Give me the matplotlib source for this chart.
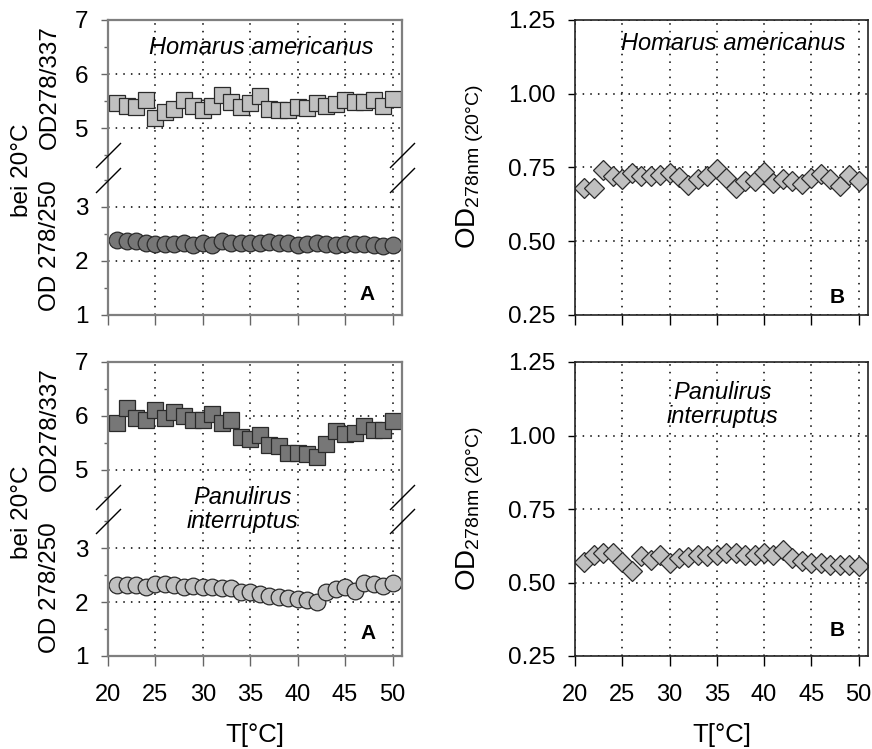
import numpy as np
import matplotlib
matplotlib.use('Agg')
import matplotlib.pyplot as plt
from matplotlib.ticker import FixedLocator, NullLocator

plt.rcParams['font.family'] = ['Liberation Sans', 'DejaVu Sans']
plt.rcParams['mathtext.default'] = 'regular'

temps = list(range(21, 51))

# Homarus americanus
homarus_337 = [5.46, 5.41, 5.39, 5.52, 5.19, 5.30, 5.36, 5.52, 5.40, 5.33,
               5.40, 5.61, 5.49, 5.39, 5.46, 5.59, 5.36, 5.33, 5.33, 5.39,
               5.37, 5.47, 5.40, 5.44, 5.52, 5.48, 5.49, 5.52, 5.40, 5.54]
homarus_250 = [2.38, 2.37, 2.36, 2.34, 2.31, 2.31, 2.31, 2.34, 2.30, 2.33,
               2.29, 2.36, 2.34, 2.33, 2.33, 2.34, 2.35, 2.34, 2.33, 2.30,
               2.32, 2.33, 2.31, 2.30, 2.31, 2.31, 2.31, 2.30, 2.28, 2.29]
homarus_od278 = [0.679, 0.679, 0.741, 0.722, 0.710, 0.730, 0.722, 0.722, 0.725, 0.730,
                 0.718, 0.690, 0.710, 0.722, 0.744, 0.716, 0.682, 0.705, 0.705, 0.735,
                 0.699, 0.710, 0.705, 0.693, 0.714, 0.727, 0.710, 0.688, 0.725, 0.705]

# Panulirus interruptus
panulirus_337 = [5.86, 6.14, 5.96, 5.93, 6.10, 5.96, 6.07, 6.00, 5.93, 5.93,
                 6.04, 5.86, 5.93, 5.60, 5.57, 5.64, 5.46, 5.44, 5.31, 5.32,
                 5.30, 5.24, 5.48, 5.71, 5.66, 5.68, 5.81, 5.74, 5.74, 5.91]
panulirus_250 = [2.31, 2.31, 2.31, 2.29, 2.33, 2.33, 2.31, 2.29, 2.30, 2.29,
                 2.29, 2.26, 2.26, 2.19, 2.18, 2.15, 2.11, 2.09, 2.08, 2.06,
                 2.04, 2.01, 2.18, 2.25, 2.28, 2.21, 2.36, 2.33, 2.30, 2.36]
panulirus_od278 = [0.569, 0.595, 0.599, 0.599, 0.569, 0.539, 0.590, 0.576, 0.595, 0.567,
                   0.584, 0.587, 0.592, 0.590, 0.595, 0.599, 0.599, 0.592, 0.595, 0.599,
                   0.595, 0.610, 0.584, 0.573, 0.567, 0.567, 0.561, 0.561, 0.561, 0.556]

x_ticks = [20, 25, 30, 35, 40, 45, 50]
left_ticks = [1, 2, 3, 5, 6, 7]
left_minor = [1.5, 2.5, 3.5, 4.5, 5.5, 6.5]
right_ticks = [0.25, 0.50, 0.75, 1.00, 1.25]

LIGHT = '#c0c0c0'
DARK = '#777777'
EDGE = '#2a2a2a'

# squeeze the unused band between 3.5 and 4.5
K = 0.457


def fwd(y):
    y = np.asarray(y, dtype=float)
    return np.where(y < 3.5, y, np.where(y < 4.5, 3.5 + (y - 3.5) * K, y - (1 - K)))


def inv(y):
    y = np.asarray(y, dtype=float)
    return np.where(y < 3.5, y, np.where(y < 3.5 + K, 3.5 + (y - 3.5) / K, y + (1 - K)))


W, H = 872, 749
fig = plt.figure(figsize=(W / 100, H / 100), dpi=100)


def box(x0, y0, x1, y1):
    return [x0 / W, 1 - y1 / H, (x1 - x0) / W, (y1 - y0) / H]


def common_x(ax):
    ax.set_xlim(20, 51)
    ax.xaxis.set_major_locator(FixedLocator(x_ticks))
    ax.xaxis.set_minor_locator(NullLocator())
    ax.tick_params(axis='x', direction='out', length=7, width=1, pad=13, labelsize=17)
    ax.grid(True, which='major', color='black', linestyle=(0, (1, 4)), linewidth=1.1)


def left_panel(rect, sq, sq_color, circ, circ_color):
    ax = fig.add_axes(rect)
    ax.set_yscale('function', functions=(fwd, inv))
    ax.plot(temps, circ, 'o', ms=12, mfc=circ_color, mec=EDGE, mew=0.9, ls='none')
    ax.plot(temps, sq, 's', ms=11.2, mfc=sq_color, mec=EDGE, mew=0.9, ls='none')
    ax.set_ylim(1, 7)
    ax.yaxis.set_major_locator(FixedLocator(left_ticks))
    ax.yaxis.set_minor_locator(FixedLocator(left_minor))
    ax.tick_params(axis='y', which='major', direction='out', length=5, width=1,
                   pad=9, labelsize=17.5, color='#666666')
    ax.tick_params(axis='y', which='minor', direction='out', length=3, width=1,
                   color='#666666')
    common_x(ax)
    ax.tick_params(axis='x', color='#666666')
    for s in ax.spines.values():
        s.set_color('#7f7f7f')
        s.set_linewidth(1.6)
    # break marks across both side spines
    for yb in (3.5, 4.5):
        ax.plot([0, 1], [yb, yb], transform=ax.get_yaxis_transform(),
                marker=[(-1, -1), (1, 1)], ms=18, mfc='none', mec='black',
                mew=1, ls='none', clip_on=False, zorder=5)
    return ax


def right_panel(rect, vals):
    ax = fig.add_axes(rect)
    ax.plot(temps, vals, 'D', ms=10.3, mfc=LIGHT, mec=EDGE, mew=0.9, ls='none')
    ax.set_ylim(0.25, 1.25)
    ax.yaxis.set_major_locator(FixedLocator(right_ticks))
    ax.yaxis.set_major_formatter(plt.FuncFormatter(lambda v, p: f'{v:.2f}'))
    ax.tick_params(axis='y', direction='out', length=5, width=1, pad=9, labelsize=17.5)
    common_x(ax)
    for s in ax.spines.values():
        s.set_color('#222222')
        s.set_linewidth(1.2)
    return ax


ax1 = left_panel(box(108, 20, 402, 315), homarus_337, LIGHT, homarus_250, DARK)
ax2 = right_panel(box(575, 20, 868, 315), homarus_od278)
ax3 = left_panel(box(108, 362, 402, 656), panulirus_337, DARK, panulirus_250, LIGHT)
ax4 = right_panel(box(575, 362, 868, 656), panulirus_od278)

for ax in (ax1, ax2):
    ax.tick_params(axis='x', labelbottom=False)

sp = dict(fontsize=17, style='italic', ha='center', va='center', linespacing=1.05)
ax1.text(0.52, 0.908, 'Homarus americanus', transform=ax1.transAxes, **sp)
ax2.text(0.539, 0.922, 'Homarus americanus', transform=ax2.transAxes, **sp)
ax3.text(0.459, 0.497, 'Panulirus\ninterruptus', transform=ax3.transAxes, **sp)
ax4.text(0.505, 0.854, 'Panulirus\ninterruptus', transform=ax4.transAxes, **sp)

lb = dict(fontsize=15, fontweight='bold', ha='center', va='center')
ax1.text(0.881, 0.068, 'A', transform=ax1.transAxes, **lb)
ax3.text(0.884, 0.078, 'A', transform=ax3.transAxes, **lb)
ax2.text(0.894, 0.061, 'B', transform=ax2.transAxes, **lb)
ax4.text(0.894, 0.088, 'B', transform=ax4.transAxes, **lb)


def ftext(x, y, s, **kw):
    fig.text(x / W, 1 - y / H, s, ha='center', va='center', **kw)


for dy in (0, 342):
    ftext(22, 170 + dy, 'bei 20°C', rotation=90, fontsize=17.5)
    ftext(50, 87 + dy, 'OD278/337', rotation=90, fontsize=17.5)
    ftext(50, 246 + dy, 'OD 278/250', rotation=90, fontsize=17.5)
    ftext(470, 167 + dy, r'OD$_{\mathregular{278nm\ (20°C)}}$', rotation=90, fontsize=20)

ftext(255, 735, 'T[°C]', fontsize=18.5)
ftext(722, 735, 'T[°C]', fontsize=18.5)

fig.savefig('out.png', dpi=100)
